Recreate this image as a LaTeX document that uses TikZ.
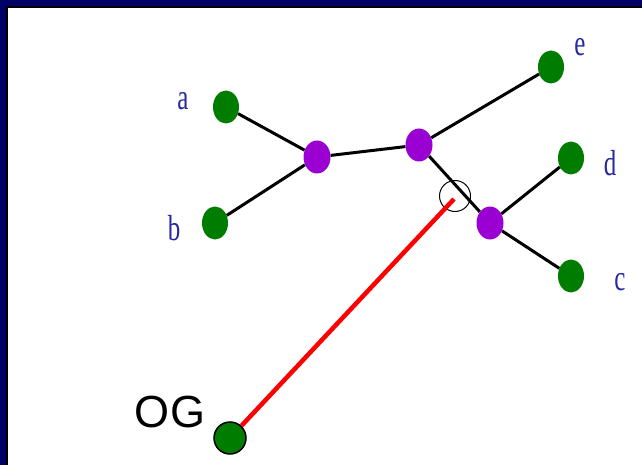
\documentclass[tikz,border=0pt]{standalone}
\usepackage{fontspec}
\setmainfont{Liberation Serif}
\newfontfamily\ogfont{Liberation Sans}
\usetikzlibrary{shapes.geometric}
\definecolor{navyframe}{RGB}{0,0,102}
\definecolor{leafgreen}{RGB}{0,125,0}
\definecolor{innerpurple}{RGB}{155,0,210}
\definecolor{labelblue}{RGB}{40,40,160}
\tikzset{
  leaf/.style={ellipse, fill=leafgreen, minimum width=26pt, minimum height=33pt, inner sep=0pt},
  inner/.style={ellipse, fill=innerpurple, minimum width=27pt, minimum height=33pt, inner sep=0pt},
  edge/.style={line width=3pt, black},
  lbl/.style={text=labelblue, inner sep=0pt, font=\fontsize{25}{25}\selectfont},
}
\newcommand{\tallletter}[1]{\scalebox{1}[1.45]{#1}}
\begin{document}
\begin{tikzpicture}[x=1pt,y=-1pt]
\useasboundingbox (0,0) rectangle (642,465);
\fill[white] (0,0) rectangle (642,465);
\fill[navyframe] (0,0) rectangle (642,6);
\fill[navyframe] (0,0) rectangle (6,465);
\fill[black] (6,6) rectangle (642,8);
\fill[black] (6,6) rectangle (8,465);
% nodes
\node[leaf] (a) at (226,107) {};
\node[leaf] (b) at (215,223) {};
\node[inner] (p1) at (317,157) {};
\node[inner] (p2) at (419,145) {};
\node[leaf] (e) at (551,67) {};
\node[leaf] (d) at (571,158) {};
\node[inner] (p3) at (490,223) {};
\node[leaf] (c) at (571,276) {};
% labels
\node[lbl] (la) at (183,101) {\tallletter{a}};
\node[lbl] (lb) at (174,228) {\tallletter{b}};
\node[lbl] (le) at (580,47) {\tallletter{e}};
\node[lbl] (ld) at (610,163) {\tallletter{d}};
\node[lbl] (lc) at (620,282) {\tallletter{c}};
% edges
\draw[edge] (a) -- (p1);
\draw[edge] (b) -- (p1);
\draw[edge] (p1) -- (p2);
\draw[edge] (p2) -- (e);
\draw[edge] (p2) -- (p3);
\draw[edge] (p3) -- (d);
\draw[edge] (p3) -- (c);
% junction marker and OG
\node[circle, draw=black, line width=1pt, minimum size=31pt, inner sep=0pt] (jc) at (455,196) {};
\coordinate (rend) at (454,199);
\node[circle, fill=leafgreen, draw=black, line width=1.5pt, minimum size=32pt, inner sep=0pt] (og) at (230,438) {};
\draw[red, line width=4.5pt] (og) -- (rend);
\node[inner sep=0pt, font=\ogfont\fontsize{45}{45}\selectfont, anchor=base] (ogl) at (170,427) {OG};
\end{tikzpicture}
\end{document}
